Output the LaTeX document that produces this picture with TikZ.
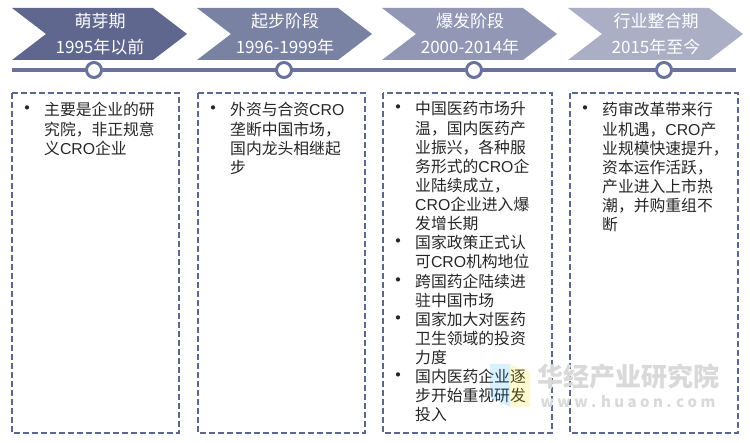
\documentclass[tikz,border=0pt]{standalone}
\usepackage{fontspec}
\setmainfont{Noto Sans CJK SC}
\newfontfamily\latinfont{Liberation Sans}
\newcommand{\cro}{{\latinfont CRO}}
\newcommand{\bul}{{\fontsize{20}{19}\selectfont •}}
\definecolor{stageA}{RGB}{95,103,142}
\definecolor{stageB}{RGB}{122,130,163}
\definecolor{stageC}{RGB}{145,151,181}
\definecolor{stageD}{RGB}{170,175,198}
\definecolor{lineblue}{RGB}{104,114,156}
\definecolor{boxblue}{RGB}{92,103,145}
\definecolor{bodytext}{RGB}{38,38,38}
\tikzset{
  stagetext/.style={text=white,font=\fontsize{17}{20}\selectfont,inner sep=0pt},
  dot/.style={circle,draw=lineblue,line width=3pt,fill=white,minimum size=15pt,inner sep=0pt},
  itembox/.style={draw=boxblue,line width=1.6pt,dash pattern=on 6pt off 3pt},
  itemtext/.style={anchor=base west,inner sep=0pt,text=bodytext,font=\fontsize{15.8}{19.1}\selectfont}
}
\begin{document}
\begin{tikzpicture}[x=1pt,y=-1pt]
    \useasboundingbox (0,0) rectangle (750,443);
    % stage arrows
    \foreach \l/\c/\n/\ta/\tb in {12/stageA/a/萌芽期/1995年以前,
                                 197/stageB/b/起步阶段/1996-1999年,
                                 382/stageC/c/爆发阶段/2000-2014年,
                                 568/stageD/d/行业整合期/2015年至今} {
      \fill[\c] (\l,8) -- (\l+141,8) -- (\l+175,34) -- (\l+141,60) -- (\l,60) -- (\l+34,34) -- cycle;
      \node[stagetext] (title\n) at (\l+88,21) {\ta};
      \node[stagetext] (years\n) at (\l+88,47) {\tb};
    }
    % time line
    \coordinate (start) at (12,70);
    \coordinate (end) at (736,70);
    \draw[lineblue,line width=4pt] (start) -- (end);
    \node[dot] (dota) at (94,70) {};
    \node[dot] (dotb) at (284,70) {};
    \node[dot] (dotc) at (474,70) {};
    \node[dot] (dotd) at (664,70) {};
    % boxes
    \draw[itembox] (12,93) rectangle (179,433);
    \draw[itembox] (198,93) rectangle (365,433);
    \draw[itembox] (383,93) rectangle (552,433);
    \draw[itembox] (570,93) rectangle (738,433);
    \node[itemtext] (texta) at (17,116) {\begin{tabular}[t]{@{}p{27pt}@{}l@{}}
      \bul & 主要是企业的研\\
        & 究院，非正规意\\
        & 义\cro 企业
    \end{tabular}};
    \node[itemtext] (textb) at (203,116) {\begin{tabular}[t]{@{}p{27pt}@{}l@{}}
      \bul & 外资与合资\cro\\
        & 垄断中国市场，\\
        & 国内龙头相继起\\
        & 步
    \end{tabular}};
    \node[itemtext] (textc) at (388,115) {\begin{tabular}[t]{@{}p{27pt}@{}l@{}}
      \bul & 中国医药市场升\\
        & 温，国内医药产\\
        & 业振兴，各种服\\
        & 务形式的\cro 企\\
        & 业陆续成立，\\
        & \cro 企业进入爆\\
        & 发增长期\\
      \bul & 国家政策正式认\\
        & 可\cro 机构地位\\
      \bul & 跨国药企陆续进\\
        & 驻中国市场\\
      \bul & 国家加大对医药\\
        & 卫生领域的投资\\
        & 力度\\
      \bul & 国内医药企业逐\\
        & 步开始重视研发\\
        & 投入
    \end{tabular}};
    \node[itemtext] (textd) at (575,116) {\begin{tabular}[t]{@{}p{27pt}@{}l@{}}
      \bul & 药审改革带来行\\
        & 业机遇，\cro 产\\
        & 业规模快速提升，\\
        & 资本运作活跃，\\
        & 产业进入上市热\\
        & 潮，并购重组不\\
        & 断
    \end{tabular}};
    % watermark
    \fill[blue!40!cyan,opacity=.15] (490,364) -- (510,364) -- (510,407) -- (490,397) -- cycle;
    \fill[yellow!80!orange,opacity=.18] (510,364) -- (530,372) -- (530,407) -- (510,407) -- cycle;
    \node[text=black!15,font=\fontsize{26}{30}\selectfont\bfseries,inner sep=0pt] (markname) at (628,377) {华经产业研究院};
    \node[text=black!15,font=\fontsize{15}{17}\selectfont\bfseries,inner sep=0pt] (markurl) at (628,402) {w w w . h u a o n . c o m};
\end{tikzpicture}
\end{document}
